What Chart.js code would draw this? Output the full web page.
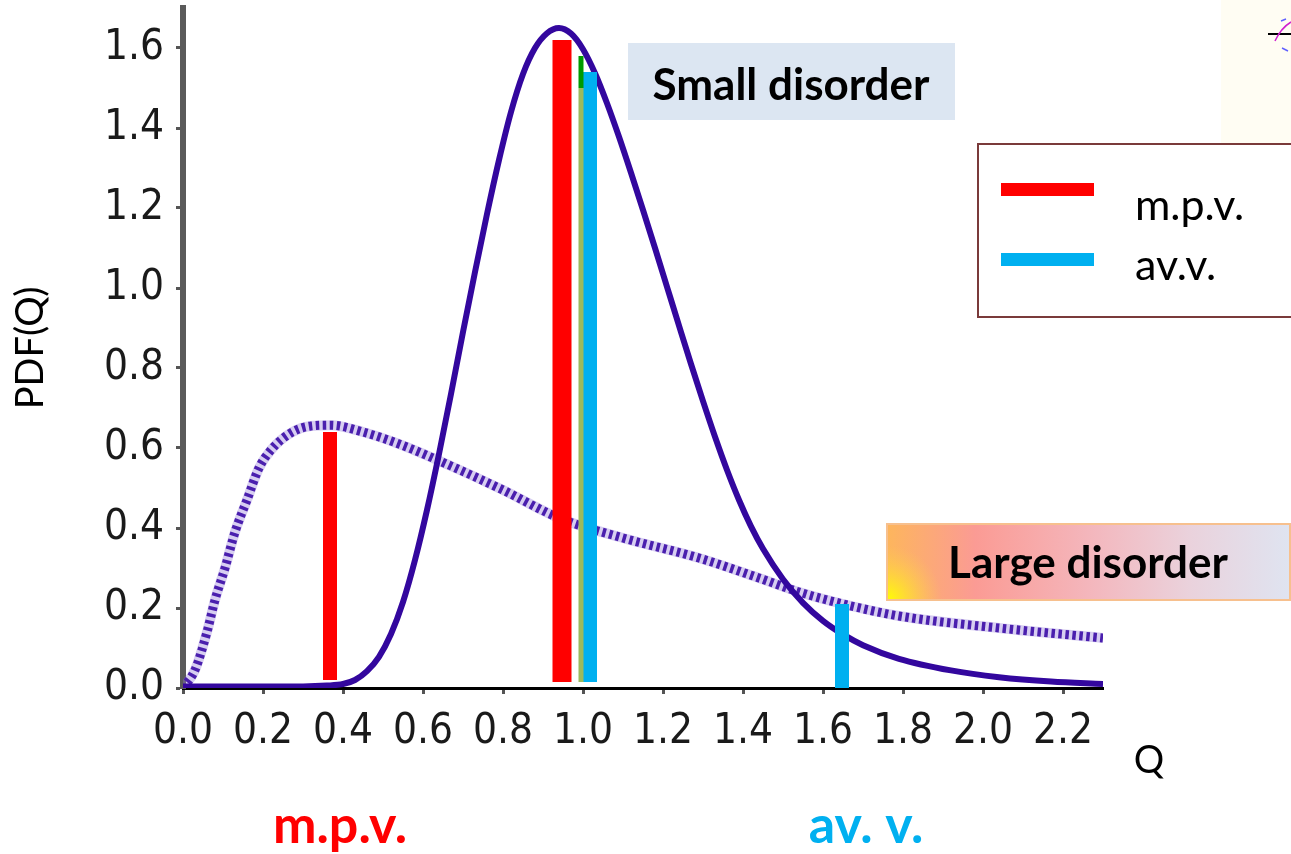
<!DOCTYPE html>
<html>
<head>
<meta charset="utf-8">
<title>PDF(Q)</title>
<script src="https://cdn.jsdelivr.net/npm/chart.js@4.4.1/dist/chart.umd.min.js"></script>
<style>
    html, body { margin: 0; padding: 0; background: #fff; }
    #wrap { width: 1291px; height: 854px; }
</style>
</head>
<body>
<div id="wrap"><canvas id="pdfChart" width="1291" height="854"></canvas></div>
<script>
// Curva "small disorder" (linha cheia)
const qSmall   = [0, 0.1, 0.2, 0.3, 0.36, 0.40, 0.43, 0.46, 0.49, 0.52, 0.55, 0.58, 0.61, 0.64, 0.67, 0.70, 0.73, 0.76, 0.79, 0.82, 0.85, 0.88, 0.91, 0.94,
                  0.97, 1.00, 1.03, 1.06, 1.09, 1.12, 1.15, 1.18, 1.21, 1.24, 1.27, 1.30, 1.33, 1.36, 1.39, 1.42, 1.45, 1.50, 1.55, 1.60, 1.65, 1.70, 1.79, 1.92, 2.04, 2.17, 2.30];
const pdfSmall = [0.004, 0.004, 0.004, 0.004, 0.006, 0.010, 0.020, 0.042, 0.078, 0.135, 0.215, 0.320, 0.445, 0.585, 0.735, 0.890, 1.040, 1.185, 1.320, 1.440, 1.535, 1.600, 1.637, 1.650,
                  1.636, 1.597, 1.537, 1.462, 1.378, 1.288, 1.195, 1.100, 1.003, 0.906, 0.810, 0.717, 0.628, 0.545, 0.470, 0.404, 0.348, 0.272, 0.213, 0.168, 0.134, 0.107, 0.073, 0.044, 0.027, 0.016, 0.010];

// Curva "large disorder" (linha tracejada)
const qLarge   = [0, 0.03, 0.06, 0.08, 0.105, 0.13, 0.16, 0.19, 0.22, 0.27, 0.32, 0.37, 0.45, 0.54, 0.67, 0.8, 0.94, 1.1, 1.29, 1.44, 1.54, 1.65, 1.79, 2.04, 2.3];
const pdfLarge = [0, 0.045, 0.14, 0.22, 0.30, 0.39, 0.47, 0.55, 0.595, 0.638, 0.655, 0.657, 0.64, 0.61, 0.555, 0.495, 0.425, 0.375, 0.325, 0.275, 0.24, 0.21, 0.18, 0.15, 0.125];

// Barras verticais: valor mais provável (m.p.v.) e valor médio (av.v.)
const mpvQ    = [0.3675, 0.9475];
const mpvLow  = [0.02, 0.015];
const mpvHigh = [0.64, 1.62];
const avvQ    = [1.0175, 1.6475];
const avvLow  = [0.015, 0];
const avvHigh = [1.54, 0.21];
const midQ    = [0.995];
const midLow  = [0.015];
const midHigh = [1.58];
const midTop  = [1.50];

// Eixos
const xTicks = [0, 0.2, 0.4, 0.6, 0.8, 1.0, 1.2, 1.4, 1.6, 1.8, 2.0, 2.2];
const xTickLabels = ['0.0', '0.2', '0.4', '0.6', '0.8', '1.0', '1.2', '1.4', '1.6', '1.8', '2.0', '2.2'];
const yTicks = [0, 0.2, 0.4, 0.6, 0.8, 1.0, 1.2, 1.4, 1.6];
const yTickLabels = ['0.0', '0.2', '0.4', '0.6', '0.8', '1.0', '1.2', '1.4', '1.6'];

const legendLabels = ['m.p.v.', 'av.v.'];
const bottomLabels = ['m.p.v.', 'av. v.'];
const boxLabels = ['Small disorder', 'Large disorder'];

const RED = '#ff0000';
const BLUE = '#00b0f0';
const INDIGO = '#33079e';

const tickFamily = '"Liberation Sans Narrow", "DejaVu Sans Condensed", sans-serif';
const textFamily = 'Lato, "Open Sans", sans-serif';

function pairs(xs, ys) {
    return xs.map((x, i) => ({ x: x, y: ys[i] }));
}

function vbar(q, lo, hi, color, width) {
    return {
        data: [{ x: q, y: lo }, { x: q, y: hi }],
        borderColor: color,
        borderWidth: width,
        borderCapStyle: 'butt',
        pointRadius: 0,
        tension: 0
    };
}

// Barras primeiro (desenhadas por cima)
const datasets = [
    vbar(mpvQ[0], mpvLow[0], mpvHigh[0], RED, 14),
    vbar(mpvQ[1], mpvLow[1], mpvHigh[1], RED, 19),
    vbar(midQ[0], midTop[0], midHigh[0], '#009a00', 5),
    vbar(midQ[0], midLow[0], midTop[0], '#9cba5c', 5),
    vbar(avvQ[0], avvLow[0], avvHigh[0], BLUE, 14),
    vbar(avvQ[1], avvLow[1], avvHigh[1], BLUE, 14),
    {
        data: pairs(qSmall, pdfSmall),
        borderColor: INDIGO,
        borderWidth: 6,
        pointRadius: 0,
        cubicInterpolationMode: 'monotone'
    },
    {
        data: pairs(qLarge, pdfLarge),
        borderColor: '#4a1fae',
        borderWidth: 9,
        borderDash: [3.5, 3.5],
        borderCapStyle: 'butt',
        pointRadius: 0,
        cubicInterpolationMode: 'monotone'
    },
    {
        data: pairs(qLarge, pdfLarge),
        borderColor: 'rgba(140, 115, 215, 0.35)',
        borderWidth: 10,
        pointRadius: 0,
        cubicInterpolationMode: 'monotone'
    }
];

// Caixas de texto, legenda e rótulos extras
const decorPlugin = {
    id: 'decor',
    afterDraw(chart) {
        const ctx = chart.ctx;
        ctx.save();

        // resto de outra figura no canto superior direito
        ctx.fillStyle = '#fffdf3';
        ctx.fillRect(1221, 0, 70, 184);
        ctx.strokeStyle = '#000';
        ctx.lineWidth = 2;
        ctx.beginPath(); ctx.moveTo(1268, 34); ctx.lineTo(1291, 34); ctx.stroke();
        ctx.strokeStyle = '#d020d0';
        ctx.lineWidth = 1.5;
        ctx.beginPath(); ctx.moveTo(1275, 41); ctx.quadraticCurveTo(1281, 28, 1291, 22); ctx.stroke();
        ctx.strokeStyle = '#6060ff';
        ctx.beginPath(); ctx.moveTo(1281, 21); ctx.lineTo(1286, 19); ctx.stroke();
        ctx.beginPath(); ctx.moveTo(1282, 48); ctx.lineTo(1288, 51); ctx.stroke();

        // Small disorder
        ctx.fillStyle = '#dce6f2';
        ctx.fillRect(628, 43, 327, 77);
        ctx.fillStyle = '#000';
        ctx.font = 'bold 44px ' + textFamily;
        ctx.textAlign = 'center';
        ctx.textBaseline = 'alphabetic';
        ctx.fillText(boxLabels[0], 791, 100);

        // Large disorder
        const g = ctx.createLinearGradient(886, 0, 1291, 0);
        g.addColorStop(0, '#fdb65c');
        g.addColorStop(0.22, '#fb9b94');
        g.addColorStop(0.5, '#f4b6bc');
        g.addColorStop(0.75, '#ead2dc');
        g.addColorStop(1, '#dfe4f1');
        ctx.fillStyle = g;
        ctx.fillRect(886, 523, 405, 78);
        const rg = ctx.createRadialGradient(887, 600, 0, 887, 600, 55);
        rg.addColorStop(0, 'rgba(255,255,0,1)');
        rg.addColorStop(1, 'rgba(255,210,80,0)');
        ctx.fillStyle = rg;
        ctx.fillRect(886, 523, 100, 78);
        ctx.strokeStyle = '#f7c08e';
        ctx.lineWidth = 2;
        ctx.strokeRect(887, 524, 403, 76);
        ctx.fillStyle = '#000';
        ctx.fillText(boxLabels[1], 1088, 578);

        // legenda
        ctx.fillStyle = '#fff';
        ctx.fillRect(978, 144, 313, 173);
        ctx.strokeStyle = '#7a3a3a';
        ctx.lineWidth = 2;
        ctx.beginPath();
        ctx.moveTo(1291, 144); ctx.lineTo(978, 144); ctx.lineTo(978, 317); ctx.lineTo(1291, 317);
        ctx.stroke();
        ctx.fillStyle = RED;
        ctx.fillRect(1001, 183, 93, 13);
        ctx.fillStyle = BLUE;
        ctx.fillRect(1001, 253, 93, 13);
        ctx.fillStyle = '#000';
        ctx.font = '43px ' + textFamily;
        ctx.textAlign = 'left';
        ctx.fillText(legendLabels[0], 1135, 220);
        ctx.fillText(legendLabels[1], 1135, 280);

        // título do eixo x
        ctx.font = '38px ' + textFamily;
        ctx.textAlign = 'center';
        ctx.fillText('Q', 1149, 773);

        // rótulos inferiores
        ctx.font = 'bold 52px ' + textFamily;
        ctx.fillStyle = RED;
        ctx.fillText(bottomLabels[0], 340, 843);
        ctx.fillStyle = BLUE;
        ctx.fillText(bottomLabels[1], 866, 843);

        ctx.restore();
    }
};

const ctx = document.getElementById('pdfChart').getContext('2d');
new Chart(ctx, {
    type: 'line',
    data: { datasets: datasets },
    options: {
        responsive: false,
        animation: false,
        devicePixelRatio: 1,
        layout: { padding: { left: 0, right: 188, top: 8, bottom: 0 } },
        plugins: {
            legend: { display: false },
            tooltip: { enabled: false }
        },
        scales: {
            x: {
                type: 'linear',
                min: 0,
                max: 2.3,
                afterFit: (scale) => {
                    scale.height = 166;
                    scale.paddingLeft = 0;
                    scale.paddingRight = 0;
                },
                afterBuildTicks: (scale) => { scale.ticks = xTicks.map(v => ({ value: v })); },
                ticks: {
                    font: { family: tickFamily, size: 42 },
                    color: '#1a1a1a',
                    padding: 13,
                    maxRotation: 0,
                    autoSkip: false,
                    callback: (v, i) => xTickLabels[i]
                },
                grid: { drawOnChartArea: false, drawTicks: true, tickLength: 6, tickWidth: 3, tickColor: '#555' },
                border: { display: true, color: '#000', width: 3 }
            },
            y: {
                min: 0,
                max: 1.7,
                afterFit: (scale) => {
                    scale.width = 183;
                    scale.paddingTop = 0;
                    scale.paddingBottom = 0;
                },
                afterBuildTicks: (scale) => { scale.ticks = yTicks.map(v => ({ value: v })); },
                ticks: {
                    font: { family: tickFamily, size: 42 },
                    color: '#1a1a1a',
                    padding: 12,
                    autoSkip: false,
                    callback: (v, i) => yTickLabels[i]
                },
                grid: { drawOnChartArea: false, drawTicks: true, tickLength: 7, tickWidth: 3, tickColor: '#555' },
                border: { display: true, color: '#5a5a5a', width: 6 },
                title: {
                    display: true,
                    text: 'PDF(Q)',
                    color: '#000',
                    font: { family: textFamily, size: 38 },
                    padding: { top: 8, bottom: 0 }
                }
            }
        }
    },
    plugins: [decorPlugin]
});
</script>
</body>
</html>
